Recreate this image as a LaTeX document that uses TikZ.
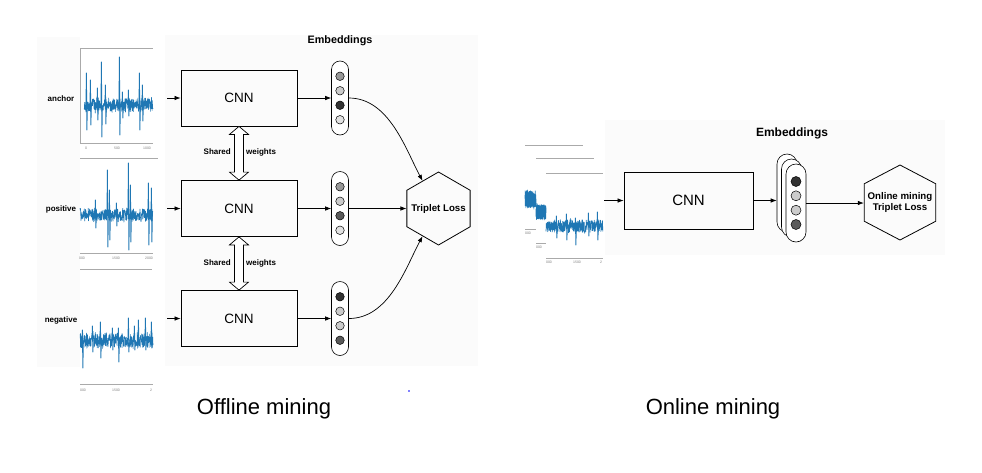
\documentclass[tikz,border=0pt]{standalone}
\usepackage{fontspec}
\setmainfont{Liberation Sans}
\usepackage{tikz}
\usetikzlibrary{calc}
\usetikzlibrary{positioning}
\usetikzlibrary{shapes.geometric}
\usetikzlibrary{arrows.meta}

\definecolor{sigblue}{HTML}{1F77B4}
\definecolor{panelgray}{HTML}{FBFBFB}
\definecolor{axisgray}{HTML}{AAAAAA}
\definecolor{embmid}{HTML}{999999}
\definecolor{emblight}{HTML}{CCCCCC}
\definecolor{embpale}{HTML}{E2E2E2}
\definecolor{embdark}{HTML}{333333}
\definecolor{embdim}{HTML}{5A5A5A}

\newcommand{\sigband}[4]{%
  \draw[sig] plot[domain=#1:#2, samples=320] (\x,{#3+#4*(0.7*rand+0.3*rand*rand*rand)});}

\begin{document}
\begin{tikzpicture}[x=1pt,y=-1pt,
    cnnbox/.style={draw, line width=0.8pt, minimum width=116pt, minimum height=56pt, inner sep=0pt, font=\fontsize{13.5}{16}\selectfont},
    embbox/.style={draw, fill=white, line width=0.6pt, rounded corners=8.5pt, minimum width=17pt, minimum height=74pt, inner sep=0pt},
    embdot/.style={circle, draw, line width=0.5pt, minimum size=8.5pt, inner sep=0pt},
    hexloss/.style={draw, line width=0.8pt, regular polygon, regular polygon sides=6, shape border rotate=30, inner sep=0pt},
    losstext/.style={font=\bfseries\fontsize{9.7}{11}\selectfont, align=center},
    arr/.style={-{Latex[length=6pt,width=4.5pt]}, line width=0.7pt},
    sharedarr/.style={draw, fill=white, line width=0.7pt},
    sig/.style={sigblue, line width=0.6pt, line join=round},
    spike/.style={sigblue, line width=0.9pt, line join=round},
    axline/.style={axisgray, line width=0.6pt},
    ticklbl/.style={font=\fontsize{3.5}{4}\selectfont, text=gray, inner sep=0pt},
    sigtag/.style={font=\bfseries\fontsize{8}{9}\selectfont, inner sep=1pt},
    headline/.style={font=\bfseries\fontsize{10.8}{12}\selectfont},
    caption/.style={font=\fontsize{22}{26}\selectfont}]
    \useasboundingbox [fill=white] (0,0) rectangle (982,472);

    \fill [panelgray] (37,37) rectangle (80,367);
    \fill [panelgray] (165,35) rectangle (478,366);
    \fill [panelgray] (605,120) rectangle (945,255);

    % signals, offline
    \pgfmathsetseed{4211}
    \draw [axline] (80,48) -- (153,48);
    \draw [axline] (80,48) -- (80,143) -- (153,143);
    \sigband{84}{153}{105}{10}
    \foreach \sx/\st/\sb in {86/73/130,90/80/125,97/88/120,101/62/137,105/85/124,119/57/135,122/92/118,128/90/116,139/73/130,142/85/121}
      \draw [spike] (\sx,105) -- (\sx+0.4,\st) -- (\sx+0.9,\sb) -- (\sx+1.3,105);
    \foreach \tx/\tl in {86/0,117/500,147/1000}
      \node [ticklbl] at (\tx,148) {\tl};
    \draw [axline] (80,158) -- (158,158);

    \sigband{80}{153}{215}{9}
    \foreach \sx/\st/\sb in {95/200/228,107/170/247,109/190/240,116/203/226,128/163/250,130/185/242,148/183/245,151/188/242}
      \draw [spike] (\sx,215) -- (\sx+0.4,\st) -- (\sx+0.9,\sb) -- (\sx+1.3,215);
    \draw [axline] (80,253) -- (153,253);
    \foreach \tx/\tl in {82/000,116/1500,149/2000}
      \node [ticklbl] at (\tx,258) {\tl};
    \draw [axline] (80,269) -- (152,269);

    \sigband{80}{153}{340}{11}
    \foreach \sx/\st/\sb in {82/330/368,92/326/352,100/322/358,112/328/350,118/328/362,128/318/352,134/326/350,138/320/345,145/318/350,151/322/348}
      \draw [spike] (\sx,340) -- (\sx+0.4,\st) -- (\sx+0.9,\sb) -- (\sx+1.3,340);
    \draw [axline] (80,384) -- (153,384);
    \foreach \tx/\tl in {83/000,116/1500,151/2}
      \node [ticklbl] at (\tx,390) {\tl};

    \node [sigtag] (tagA) at (61,99) {anchor};
    \node [sigtag] (tagP) at (61,209) {positive};
    \node [sigtag] (tagN) at (61,320) {negative};

    % offline mining
    \node [headline] (embtitleL) at (340,41) {Embeddings};
    \node [cnnbox] (cnnA) at (239,98) {CNN};
    \node [cnnbox] (cnnB) at (239,208.5) {CNN};
    \node [cnnbox] (cnnC) at (239,318.5) {CNN};
    \coordinate (inA) at (167,98);
    \coordinate (inB) at (167,208.5);
    \coordinate (inC) at (167,318.5);

    \node [embbox] (embA) at (340,98) {};
    \node [embbox] (embB) at (340,208.5) {};
    \node [embbox] (embC) at (340,318.5) {};
    \foreach \e/\ca/\cb/\cc/\cd in {embA/embmid/emblight/embdark/embpale,embB/embmid/emblight/embdim/embpale,embC/embdark/emblight/emblight/embdim} {
      \node [embdot,fill=\ca] (\e-1) at ($(\e)+(0,-21.75)$) {};
      \node [embdot,fill=\cb] (\e-2) at ($(\e)+(0,-7.25)$) {};
      \node [embdot,fill=\cc] (\e-3) at ($(\e)+(0,7.25)$) {};
      \node [embdot,fill=\cd] (\e-4) at ($(\e)+(0,21.75)$) {};
    }

    \node [hexloss,minimum size=73pt] (lossL) at (438.5,208.5) {};
    \node [losstext] at (lossL) {Triplet Loss};

    \draw [arr] (inA) -- (cnnA);
    \draw [arr] (inB) -- (cnnB);
    \draw [arr] (inC) -- (cnnC);
    \draw [arr] (cnnA) -- (embA);
    \draw [arr] (cnnB) -- (embB);
    \draw [arr] (cnnC) -- (embC);
    \draw [arr] (embA.east) .. controls +(40,0) and +(-17,-32) .. (lossL.120);
    \draw [arr] (embB.east) -- (lossL.west);
    \draw [arr] (embC.east) .. controls +(40,0) and +(-17,32) .. (lossL.240);

    \draw [sharedarr] (cnnA.south) -- ++(9.5,8) -- ++(-5,0) -- ($(cnnB.north)+(4.5,-8)$) -- ++(5,0)
      -- (cnnB.north) -- ++(-9.5,-8) -- ++(5,0) -- ($(cnnA.south)+(-4.5,8)$) -- ++(-5,0) -- cycle;
    \draw [sharedarr] (cnnB.south) -- ++(9.5,8) -- ++(-5,0) -- ($(cnnC.north)+(4.5,-8)$) -- ++(5,0)
      -- (cnnC.north) -- ++(-9.5,-8) -- ++(5,0) -- ($(cnnB.south)+(-4.5,8)$) -- ++(-5,0) -- cycle;
    \node [sigtag,anchor=east] at (232,152) {Shared};
    \node [sigtag,anchor=west] at (245,152) {weights};
    \node [sigtag,anchor=east] at (232,263) {Shared};
    \node [sigtag,anchor=west] at (245,263) {weights};

    % signals, online
    \draw [axline] (525,145) -- (583,145);
    \sigband{525}{536}{199}{12}
    \draw [axline] (525,229) -- (536,229);
    \node [ticklbl] at (528,233) {000};
    \draw [axline] (536,158) -- (594,158);
    \sigband{536}{546}{212}{10}
    \draw [axline] (536,243) -- (546,243);
    \node [ticklbl] at (539,247) {000};
    \draw [axline] (546,173) -- (603,173);
    \sigband{546}{603}{226}{9}
    \foreach \sx/\st/\sb in {556/216/238,566/214/240,575/218/245,588/213/236,597/212/240}
      \draw [spike] (\sx,226) -- (\sx+0.4,\st) -- (\sx+0.9,\sb) -- (\sx+1.3,226);
    \draw [axline] (546,258) -- (603,258);
    \foreach \tx/\tl in {549/000,577/1500,601/2}
      \node [ticklbl] at (\tx,262) {\tl};

    % online mining
    \node [headline,font=\bfseries\fontsize{12}{14}\selectfont] (embtitleR) at (792,133) {Embeddings};
    \node [cnnbox,minimum width=129pt,minimum height=57pt,font=\fontsize{15}{18}\selectfont] (cnnR) at (688.5,200.5) {CNN};
    \coordinate (inR) at (604,200.5);
    \node [embbox,minimum width=20pt,minimum height=78pt,rounded corners=10pt] (embR3) at (787,193) {};
    \node [embbox,minimum width=20pt,minimum height=78pt,rounded corners=10pt] (embR2) at (791.5,198) {};
    \node [embbox,minimum width=20pt,minimum height=78pt,rounded corners=10pt] (embR1) at (796,203) {};
    \node [embdot,minimum size=10pt,fill=embdark] (embR1-1) at (796,181.5) {};
    \node [embdot,minimum size=10pt,fill=emblight] (embR1-2) at (796,195.8) {};
    \node [embdot,minimum size=10pt,fill=emblight] (embR1-3) at (796,210.2) {};
    \node [embdot,minimum size=10pt,fill=embdim] (embR1-4) at (796,224.5) {};
    \node [hexloss,minimum size=75pt,xscale=1.1] (lossR) at (900,202.5) {};
    \node [losstext] at (lossR) {Online mining\\Triplet Loss};

    \draw [arr] (inR) -- (cnnR);
    \draw [arr] (cnnR.east) -- (cnnR.east -| embR3.west);
    \draw [arr] (embR1.east) -- (embR1.east -| lossR.west);

    \node [caption] (capL) at (264,409) {Offline mining};
    \node [caption] (capR) at (713,409) {Online mining};
    \fill [blue] (409,391) circle (0.8);

  \end{tikzpicture}
\end{document}
